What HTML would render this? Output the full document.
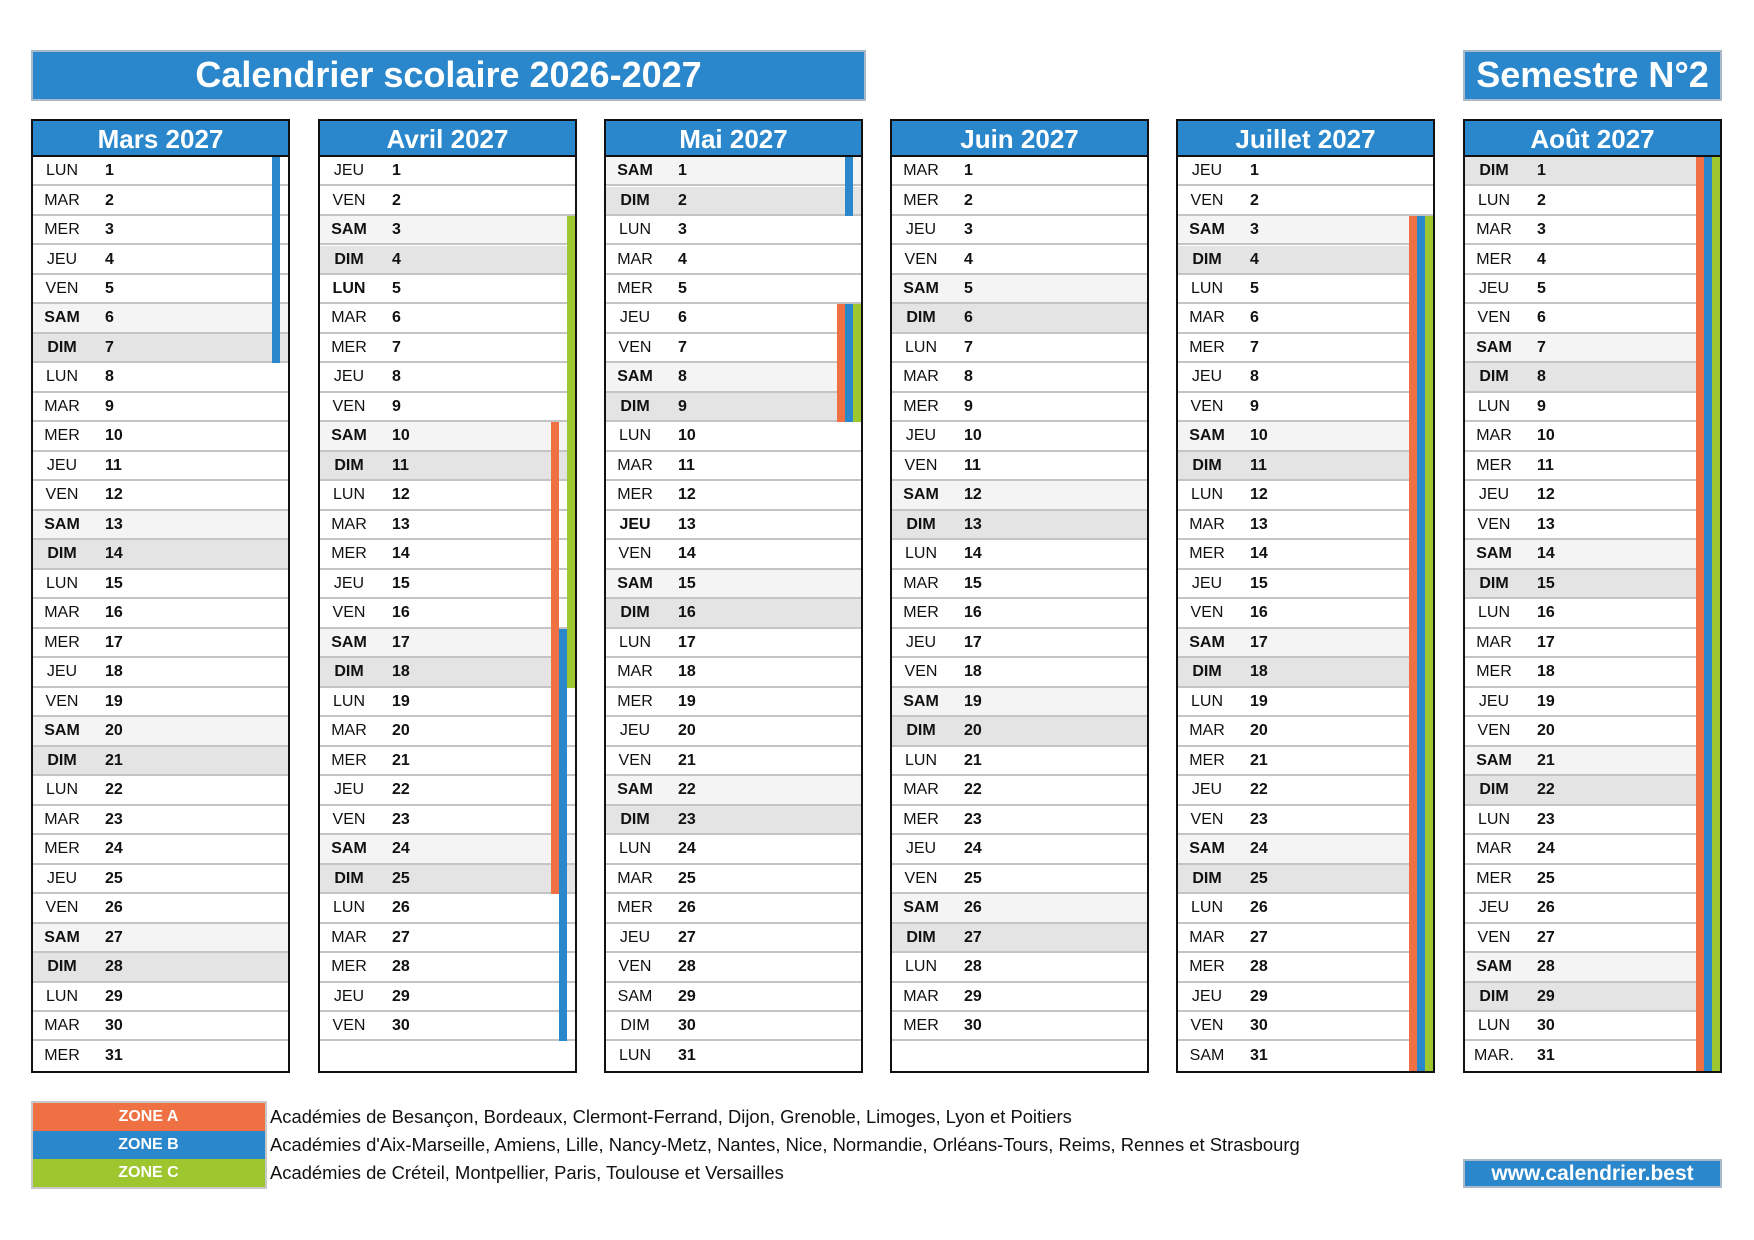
<!DOCTYPE html>
<html><head><meta charset="utf-8">
<style>
*{margin:0;padding:0;box-sizing:border-box}
body{width:1754px;height:1240px;background:#fff;position:relative;overflow:hidden;font-family:"Liberation Sans",sans-serif}
.bar{position:absolute;background:#2a87cb;color:#fff;font-weight:bold;text-align:center;border:2px solid #a9b9c9;white-space:nowrap}
.col{position:absolute;top:119px;width:259px;height:954px;border:2px solid #111;background:#fff;overflow:hidden}
.hd{position:absolute;left:0;top:0;width:255px;height:36px;background:#2a87cb;color:#fff;font-weight:bold;font-size:26px;text-align:center;line-height:36px;border-bottom:2px solid #111}
.row{position:absolute;left:0;width:255px;border-bottom:2px solid #c4c4c4;font-size:16px;color:#111}
.row .d{position:absolute;left:0;width:58px;text-align:center}
.row .n{position:absolute;left:72px;font-weight:bold}
.sam{background:#f4f4f4}.dim{background:#e4e4e4}
.z{position:absolute}
.lg{position:absolute;left:32px;width:233px;height:28px;color:#fff;font-weight:bold;font-size:16px;text-align:center;line-height:28px}
.lt{position:absolute;left:270px;font-size:18.4px;line-height:28px;color:#111;white-space:nowrap}
</style></head><body>
<div class="bar" style="left:31px;top:50px;width:835px;height:51px;font-size:36px;line-height:46px">Calendrier scolaire 2026-2027</div>
<div class="bar" style="left:1463px;top:50px;width:259px;height:51px;font-size:36px;line-height:46px">Semestre N°2</div>
<div id="cols"></div>
<div class="lg" style="top:1103px;background:#ee7043">ZONE A</div>
<div class="lg" style="top:1131px;background:#2a87cb">ZONE B</div>
<div class="lg" style="top:1159px;background:#9dc62f">ZONE C</div>
<div style="position:absolute;left:31px;top:1101px;width:236px;height:88px;border:2px solid #c8c8c8"></div>
<div class="lt" style="top:1103px">Académies de Besançon, Bordeaux, Clermont-Ferrand, Dijon, Grenoble, Limoges, Lyon et Poitiers</div>
<div class="lt" style="top:1131px">Académies d'Aix-Marseille, Amiens, Lille, Nancy-Metz, Nantes, Nice, Normandie, Orléans-Tours, Reims, Rennes et Strasbourg</div>
<div class="lt" style="top:1159px">Académies de Créteil, Montpellier, Paris, Toulouse et Versailles</div>
<div class="bar" style="left:1463px;top:1159px;width:259px;height:29px;font-size:21px;line-height:25px">www.calendrier.best</div>
<script>
var days=["LUN","MAR","MER","JEU","VEN","SAM","DIM"];
var months=[
 {t:"Mars 2027",s:0,n:31,bars:[["B",1,7]],plain:[],bold:[]},
 {t:"Avril 2027",s:3,n:30,bars:[["C",3,18],["A",10,25],["B",17,30]],plain:[],bold:[5]},
 {t:"Mai 2027",s:5,n:31,bars:[["B",1,2],["A",6,9],["B",6,9],["C",6,9]],plain:[29,30],bold:[13]},
 {t:"Juin 2027",s:1,n:30,bars:[],plain:[],bold:[]},
 {t:"Juillet 2027",s:3,n:31,bars:[["A",3,31],["B",3,31],["C",3,31]],plain:[31],bold:[]},
 {t:"Août 2027",s:6,n:31,bars:[["A",1,31],["B",1,31],["C",1,31]],plain:[],bold:[]}
];
var lefts=[31,318,604,890,1176,1463];
var TOP=36,RH=(950-36)/31;
var zc={A:["#ee7043",24],B:["#2a87cb",16],C:["#9dc62f",8]};
var h="";
months.forEach(function(m,i){
 h+='<div class="col" style="left:'+lefts[i]+'px"><div class="hd">'+m.t+'</div>';
 for(var d=1;d<=m.n;d++){
  var top=TOP+(d-1)*RH;
  var w=(m.s+d-1)%7, name=days[w];
  if(i==5&&d==31)name="MAR.";
  var we=w>=5&&m.plain.indexOf(d)<0;
  var cls=we?(w==5?"sam":"dim"):"";
  var bold=(we||m.bold.indexOf(d)>=0)?"font-weight:bold;":"";
  h+='<div class="row '+cls+'" style="top:'+top.toFixed(1)+'px;height:'+RH.toFixed(2)+'px;line-height:'+(RH-2).toFixed(1)+'px'+(d==31?';border-bottom:none':'')+'"><span class="d" style="'+bold+'">'+name+'</span><span class="n">'+d+'</span></div>';
 }
 m.bars.forEach(function(b){
  var c=zc[b[0]];
  var t=TOP+(b[1]-1)*RH, hh=(b[2]-b[1]+1)*RH;
  h+='<div class="z" style="left:'+(255-c[1])+'px;width:8px;top:'+t.toFixed(1)+'px;height:'+hh.toFixed(1)+'px;background:'+c[0]+'"></div>';
 });
 h+='</div>';
});
document.getElementById("cols").innerHTML=h;
</script>
</body></html>
